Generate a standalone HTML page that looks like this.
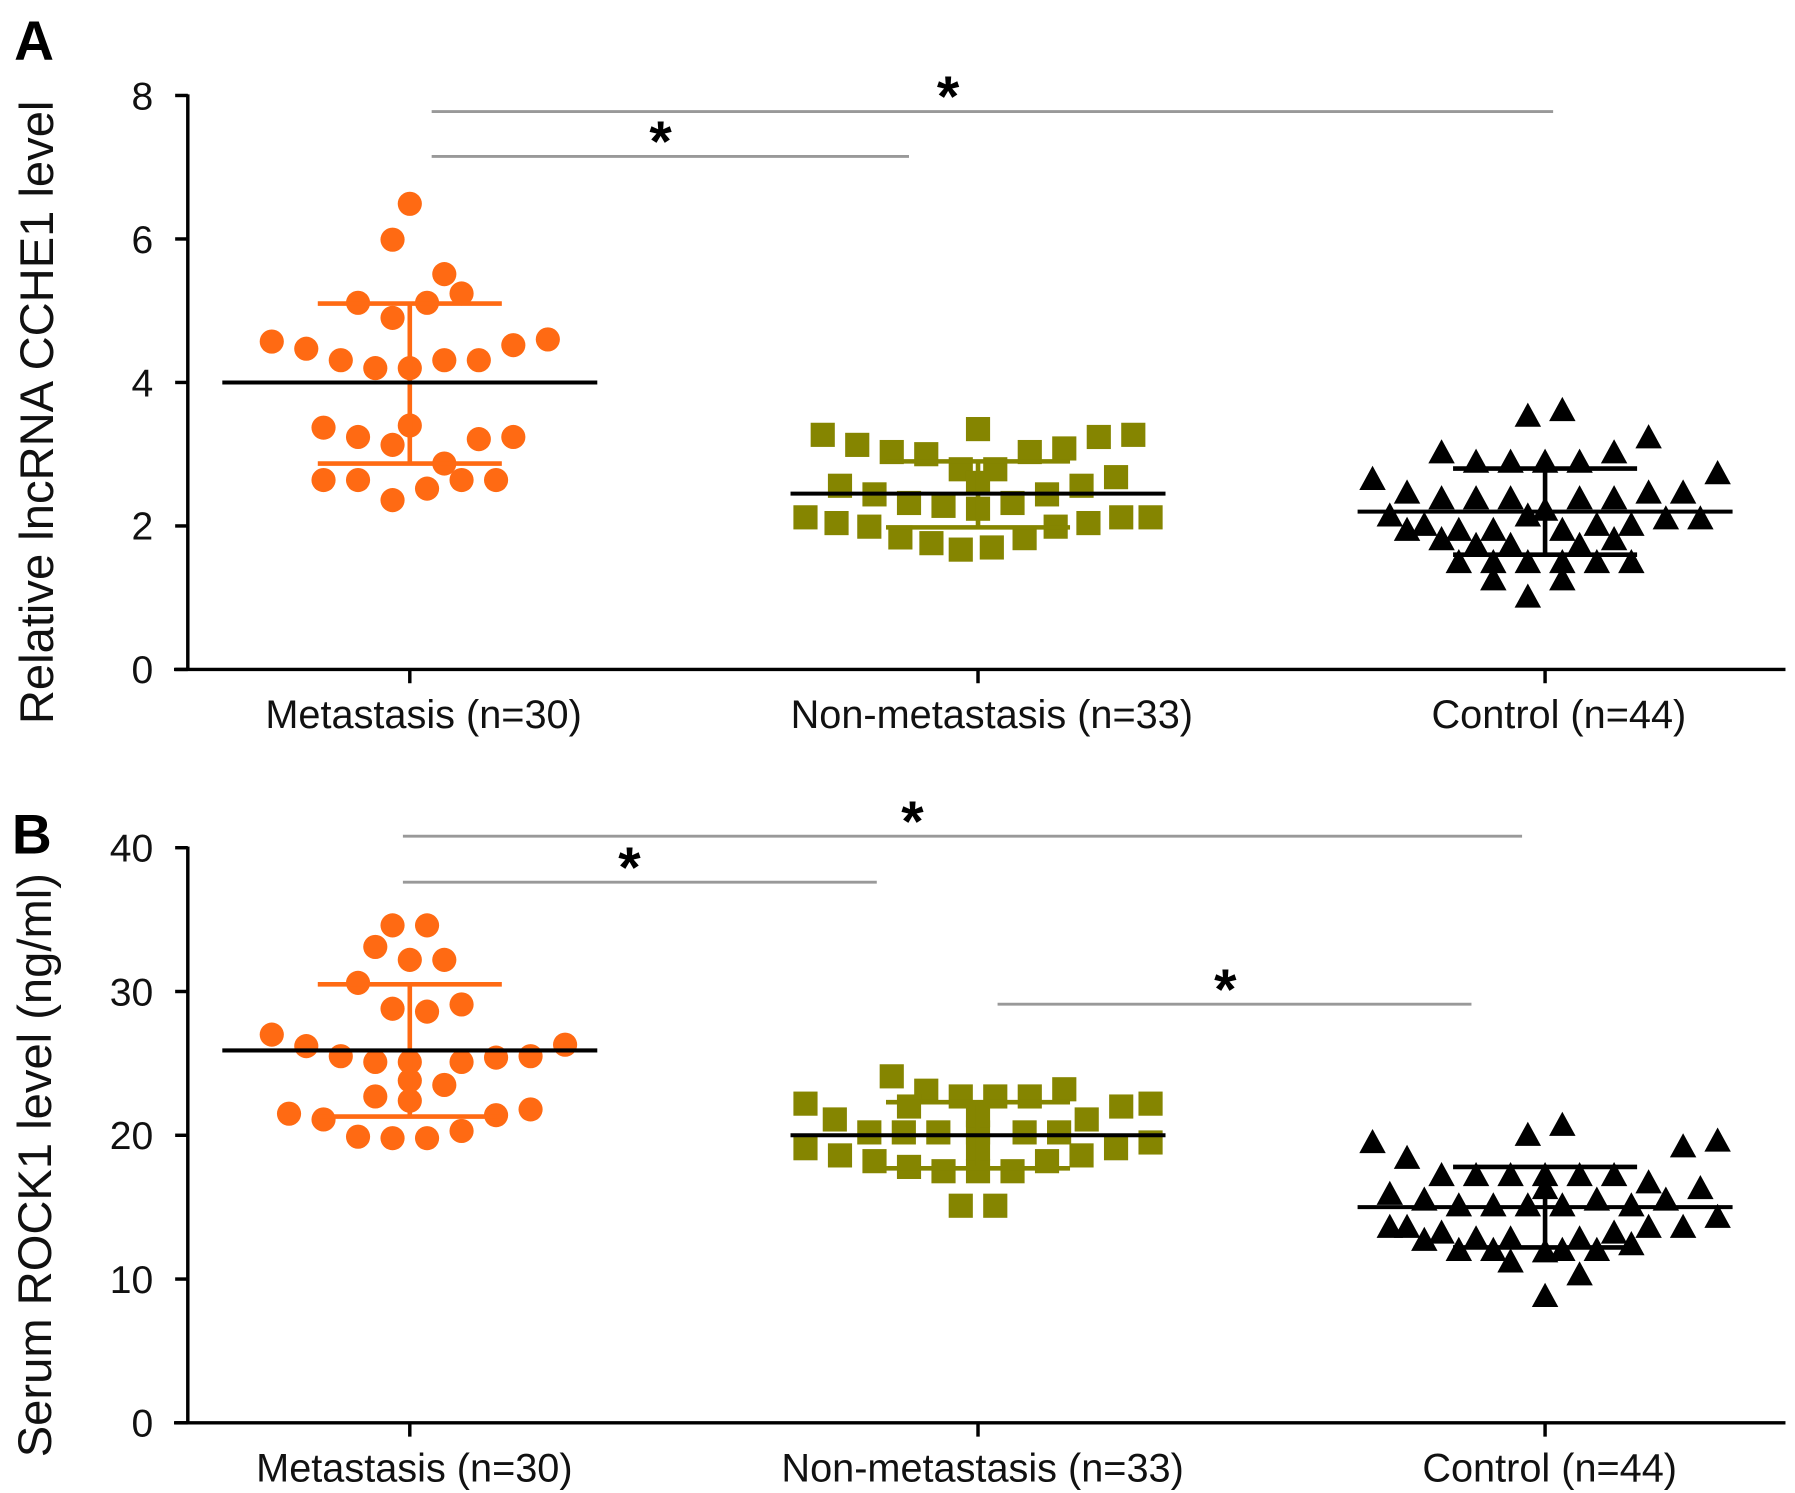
<!DOCTYPE html>
<html><head><meta charset="utf-8"><style>
html,body{margin:0;padding:0;background:#fff;width:1795px;height:1493px;overflow:hidden}
svg{display:block;font-family:"Liberation Sans",sans-serif}
</style></head><body>
<svg id="chart" width="1795" height="1493" viewBox="0 0 1560 1298" xmlns="http://www.w3.org/2000/svg"></svg>
<script>
const categories = ["Metastasis (n=30)", "Non-metastasis (n=33)", "Control (n=44)"];
const ticksA = [0, 2, 4, 6, 8];
const ticksB = [0, 10, 20, 30, 40];
// Panel A values
const aMetVals = [6.49,5.99,5.51,5.24,5.11,5.11,4.90,4.57,4.47,4.60,4.52,4.31,4.20,4.20,4.31,4.31,3.37,3.40,3.24,3.13,3.21,3.24,2.87,2.64,2.64,2.64,2.64,2.52,2.36];
const aMetJit = [0,-1,2,3,-3,1,-1,-8,-6,8,6,-4,-2,0,2,4,-5,0,-3,-1,4,6,2,-5,-3,3,5,1,-1];
const aNonVals = [3.27,3.13,3.03,3.00,3.35,3.03,3.08,3.24,3.27,2.79,2.79,2.56,2.44,2.32,2.28,2.24,2.32,2.44,2.56,2.68,2.12,2.04,1.99,1.84,1.76,1.67,1.70,1.83,1.99,2.04,2.12,2.12,2.60];
const aNonJit = [-9,-7,-5,-3,0,3,5,7,9,-1,1,-8,-6,-4,-2,0,2,4,6,8,-10,-8.2,-6.3,-4.5,-2.7,-1,0.8,2.7,4.5,6.4,8.3,10,0];
const aCtlVals = [3.51,3.59,3.21,3.00,2.87,2.87,2.87,2.87,3.00,2.63,2.71,2.44,2.36,2.36,2.36,2.36,2.36,2.44,2.44,2.12,1.99,1.92,1.92,2.12,1.92,1.99,1.99,2.08,2.08,2.20,1.92,1.79,1.71,1.71,1.71,1.79,1.47,1.47,1.47,1.47,1.47,1.47,1.23,1.23,0.99];
const aCtlJit = [-1,1,6,-6,-4,-2,0,2,4,-10,10,-8,-6,-4,-2,2,4,6,8,-9,-7,-5,-3,-1,1,3,5,7,9,0,-8,-6,-4,-2,2,4,-5,-3,-1,1,3,5,-3,1,-1];
const aMeans = [4.0, 2.45, 2.2];
const aSdHi = [5.1, 2.9, 2.8];
const aSdLo = [2.87, 1.98, 1.6];
// Panel B values
const bMetVals = [34.6,34.6,33.1,32.2,32.2,30.6,28.8,28.6,29.1,27.0,26.2,26.3,25.5,25.1,25.1,25.1,25.4,25.5,23.5,22.7,22.4,21.5,21.1,21.4,21.8,19.9,19.8,19.8,20.3,23.8];
const bMetJit = [-1,1,-2,0,2,-3,-1,1,3,-8,-6,9,-4,-2,0,3,5,7,2,-2,0,-7,-5,5,7,-3,-1,1,3,0];
const bNonVals = [24.1,23.1,22.7,22.7,22.7,23.2,22.2,22.0,22.2,21.1,20.2,20.2,20.2,20.2,20.2,20.2,21.1,19.1,18.6,18.2,17.8,17.5,17.5,17.5,18.2,18.6,19.1,19.5,15.1,15.1,19.1,21.4,22.0];
const bNonJit = [-5,-3,-1,1,3,5,-10,8.3,10,-8.3,-6.3,-4.3,-2.3,0,2.7,4.7,6.3,-10,-8,-6,-4,-2,0,2,4,6,8,10,-1,1,0,0,-4];
const bCtlVals = [19.9,20.6,19.4,18.3,19.1,19.5,17.1,17.1,17.1,17.1,17.1,17.1,16.6,15.8,15.4,15.0,15.0,15.0,15.0,15.4,15.0,15.4,16.2,16.2,13.5,13.1,12.7,12.7,12.7,13.1,13.5,13.5,14.2,13.5,12.6,11.9,11.9,11.9,11.9,12.3,11.1,11.8,10.2,8.7];
const bCtlJit = [-1,1,-10,-8,8,10,-6,-4,-2,0,2,4,6,-9,-7,-5,-3,-1,1,3,5,7,9,0,-8,-6,-4,-2,2,4,6,8,10,-9,-7,-5,-3,1,3,5,-2,0,2,0];
const bMeans = [25.9, 20.0, 15.0];
const bSdHi = [30.5, 22.3, 17.8];
const bSdLo = [21.3, 17.7, 12.2];

const NS = "http://www.w3.org/2000/svg";
const svg = document.getElementById("chart");
function mk(tag, attrs, parent) {
  const e = document.createElementNS(NS, tag);
  for (const k in attrs) e.setAttribute(k, attrs[k]);
  (parent || svg).appendChild(e);
  return e;
}
const colors = ["#ff6a13", "#858500", "#000000"];
const barColors = ["#ff6a13", "#858500", "#000000"];
const centers = [356, 850, 1343];
const JIT = 15;

function panel(cfg) {
  const g = mk("g", {});
  
  
  const y = v => cfg.y0 - (v / cfg.max) * (cfg.y0 - cfg.yTop);
  const ax = mk("g", {}, g);
  
  
  mk("line", {x1:163, y1:cfg.yTop-1, x2:163, y2:cfg.y0, stroke:"#000", "stroke-width":3}, ax);
  cfg.ticks.forEach(t => {
    mk("line", {x1:152, y1:y(t), x2:163, y2:y(t), stroke:"#000", "stroke-width":3}, ax);
    const tx = mk("text", {x:133, y:y(t)+12, "font-size":34, "text-anchor":"end", fill:"#111"}, ax);
    tx.textContent = t;
    
    
  });
  const xa = mk("g", {}, g);
  
  
  mk("line", {x1:151, y1:cfg.y0, x2:1552, y2:cfg.y0, stroke:"#000", "stroke-width":3}, xa);
  categories.forEach((c, i) => {
    mk("line", {x1:centers[i], y1:cfg.y0, x2:centers[i], y2:cfg.y0+12, stroke:"#000", "stroke-width":3}, xa);
    const tx = mk("text", {x:centers[i]+12 + (cfg.catShift||0), y:cfg.y0+51, "font-size":34.5, "text-anchor":"middle", fill:"#111"}, xa);
    tx.textContent = c;
    
    
  });
  const yt = mk("text", {x:0, y:0, "font-size":41, "text-anchor":"middle", fill:"#111", transform:`translate(${cfg.titleX},${(cfg.y0+cfg.yTop)/2+26}) rotate(-90)`}, g);
  yt.textContent = cfg.title;
  
  
  const pl = mk("text", {x:cfg.letterX, y:cfg.letterY, "font-size":48, "font-weight":"bold", fill:"#000"}, g);
  pl.textContent = cfg.letter;
  
  

  cfg.groups.forEach((grp, i) => {
    const sg = mk("g", {fill:colors[i]}, g);
    
    
    grp.vals.forEach((v, j) => {
      const cx = centers[i] + grp.jit[j]*JIT, cy = y(v);
      let m;
      if (i === 0) m = mk("circle", {cx, cy, r:10.5}, sg);
      else if (i === 1) m = mk("rect", {x:cx-10.5, y:cy-10.5, width:21, height:21}, sg);
      else m = mk("polygon", {points:`${cx},${cy-13} ${cx-11.5},${cy+8} ${cx+11.5},${cy+8}`}, sg);
      
      
    });
    const eb = mk("g", {stroke:barColors[i], "stroke-width":4}, g);
    
    
    const c = centers[i];
    mk("line", {x1:c, y1:y(cfg.sdHi[i]), x2:c, y2:y(cfg.sdLo[i])}, eb);
    mk("line", {x1:c-80, y1:y(cfg.sdHi[i]), x2:c+80, y2:y(cfg.sdHi[i])}, eb);
    mk("line", {x1:c-80, y1:y(cfg.sdLo[i]), x2:c+80, y2:y(cfg.sdLo[i])}, eb);
    const ml = mk("line", {x1:c-163, y1:y(cfg.means[i]), x2:c+163, y2:y(cfg.means[i]), stroke:"#000", "stroke-width":3.5}, g);
    
    
  });
  cfg.sig.forEach(s => {
    const sg = mk("g", {}, g);
    
    
    mk("line", {x1:s[0], y1:s[2], x2:s[1], y2:s[2], stroke:"#999", "stroke-width":2.5}, sg);
    const st = mk("text", {x:s[3], y:s[2]+4, "font-size":50, "font-weight":"bold", "text-anchor":"middle", fill:"#000"}, sg);
    st.textContent = "*";
  });
}

panel({name:"panel-a", letter:"A", letterX:12, letterY:52, y0:582, yTop:83, max:8, ticks:ticksA,
  title:"Relative lncRNA CCHE1 level", titleX:46,
  groups:[{vals:aMetVals,jit:aMetJit},{vals:aNonVals,jit:aNonJit},{vals:aCtlVals,jit:aCtlJit}],
  means:aMeans, sdHi:aSdHi, sdLo:aSdLo,
  sig:[[375,1350,97,824],[375,790,136,574]]});
panel({name:"panel-b", letter:"B", letterX:10, letterY:742, y0:1237, yTop:737, max:40, ticks:ticksB,
  title:"Serum ROCK1 level (ng/ml)", titleX:44, catShift:-8,
  groups:[{vals:bMetVals,jit:bMetJit},{vals:bNonVals,jit:bNonJit},{vals:bCtlVals,jit:bCtlJit}],
  means:bMeans, sdHi:bSdHi, sdLo:bSdLo,
  sig:[[350,1323,727,793],[350,762,767,547],[867,1279,873,1065]]});
</script>
</body></html>
